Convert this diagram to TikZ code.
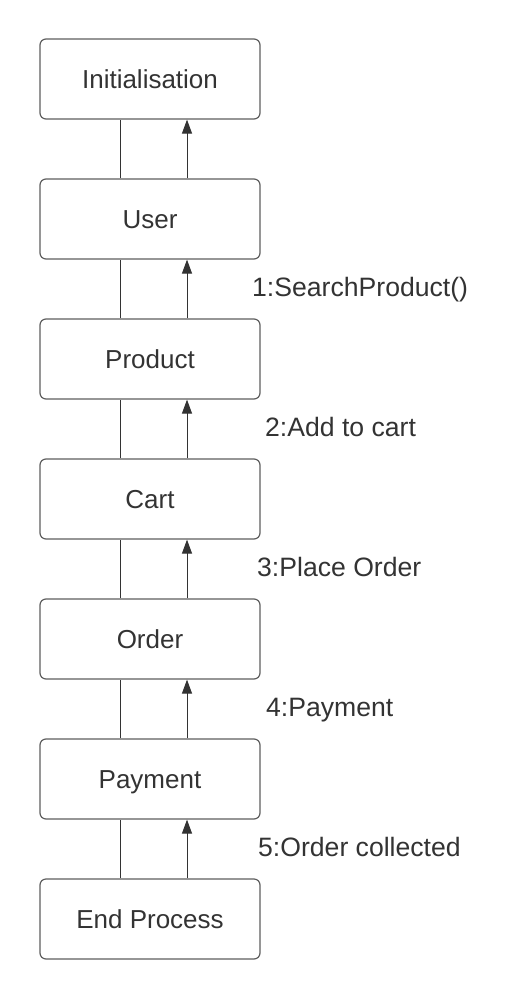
\documentclass[tikz,border=0pt]{standalone}
\usepackage{fontspec}
\setmainfont{Liberation Sans}
\usetikzlibrary{arrows.meta}
\definecolor{txt}{HTML}{333333}
\definecolor{edge}{HTML}{5E5E5E}
\begin{document}
\begin{tikzpicture}[x=1pt,y=-1pt,
  stepbox/.style={draw=edge,line width=1.2pt,rounded corners=6pt,minimum width=220pt,minimum height=80pt,
    text height=19pt,text depth=0pt,inner sep=0pt,font=\fontsize{26}{30}\selectfont,text=txt},
  link/.style={draw=txt,line width=1pt},
  uparrow/.style={link,-{Triangle[length=14pt,width=10pt]}},
  lbl/.style={anchor=base west,inner sep=0pt,font=\fontsize{26.6}{30}\selectfont,text=txt}]
\useasboundingbox (0,0) rectangle (520,1000);
\node[stepbox] (init) at (150,79) {Initialisation};
\node[stepbox] (user) at (150,219) {User};
\node[stepbox] (prod) at (150,359) {Product};
\node[stepbox] (cart) at (150,499) {Cart};
\node[stepbox] (order) at (150,639) {Order};
\node[stepbox] (pay) at (150,779) {Payment};
\node[stepbox] (endp) at (150,919) {End Process};
\foreach \lo/\up in {user/init,prod/user,cart/prod,order/cart,pay/order,endp/pay}{
  \draw[link] ([xshift=-29.5pt]\lo.north) -- ([xshift=-29.5pt]\up.south);
  \draw[uparrow] ([xshift=37pt]\lo.north) -- ([xshift=37pt]\up.south);
}
\node[lbl] (l1) at (252,296) {1:SearchProduct()};
\node[lbl] (l2) at (265,436) {2:Add to cart};
\node[lbl] (l3) at (257,576) {3:Place Order};
\node[lbl] (l4) at (266,716) {4:Payment};
\node[lbl] (l5) at (258,856) {5:Order collected};
\end{tikzpicture}
\end{document}
